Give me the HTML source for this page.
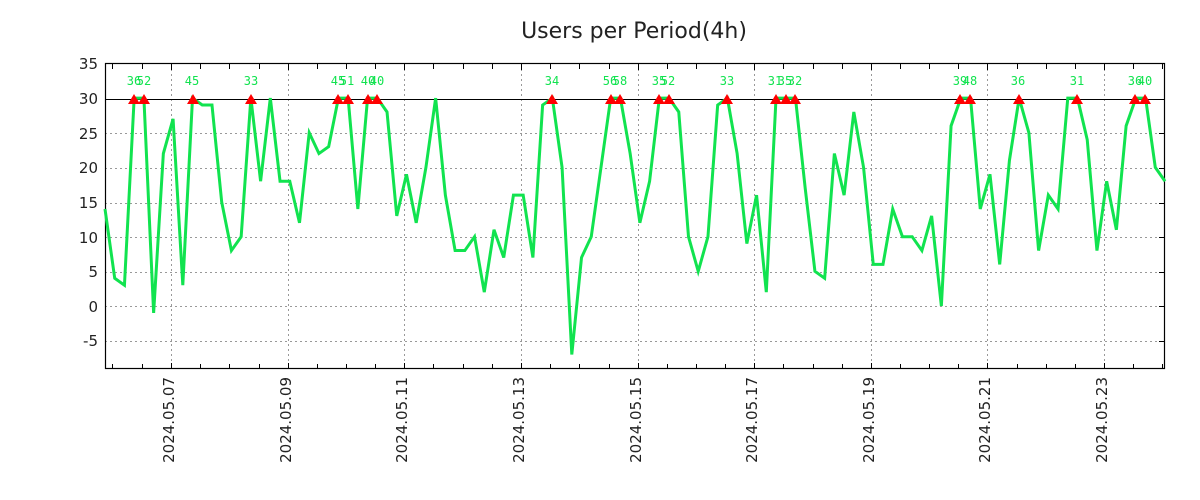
<!DOCTYPE html>
<html><head><meta charset="utf-8"><style>
body{margin:0;background:#fff;}
svg{display:block;font-family:"DejaVu Sans","Liberation Sans",sans-serif;}
</style></head><body>
<svg width="1200" height="500" viewBox="0 0 1200 500" xmlns="http://www.w3.org/2000/svg">
<rect width="1200" height="500" fill="#fff"/>
<text x="634" y="38" font-size="22" text-anchor="middle" fill="#222">Users per Period(4h)</text>
<g stroke="#999" stroke-width="1" stroke-dasharray="2,3">
<line x1="105" x2="1165" y1="133.5" y2="133.5"/><line x1="105" x2="1165" y1="168.5" y2="168.5"/>
<line x1="105" x2="1165" y1="203.5" y2="203.5"/><line x1="105" x2="1165" y1="237.5" y2="237.5"/>
<line x1="105" x2="1165" y1="272.5" y2="272.5"/><line x1="105" x2="1165" y1="306.5" y2="306.5"/>
<line x1="105" x2="1165" y1="341.5" y2="341.5"/>
<line x1="171.5" x2="171.5" y1="64" y2="369"/><line x1="288.5" x2="288.5" y1="64" y2="369"/>
<line x1="404.5" x2="404.5" y1="64" y2="369"/><line x1="521.5" x2="521.5" y1="64" y2="369"/>
<line x1="638.5" x2="638.5" y1="64" y2="369"/><line x1="754.5" x2="754.5" y1="64" y2="369"/>
<line x1="871.5" x2="871.5" y1="64" y2="369"/><line x1="987.5" x2="987.5" y1="64" y2="369"/>
<line x1="1104.5" x2="1104.5" y1="64" y2="369"/>
</g>
<g stroke="#000" stroke-width="1">
<path d="M112.5 369v-5M142.5 369v-5M171.5 369v-6M200.5 369v-5M229.5 369v-5M259.5 369v-5M288.5 369v-6M317.5 369v-5M346.5 369v-5M375.5 369v-5M404.5 369v-6M433.5 369v-5M463.5 369v-5M492.5 369v-5M521.5 369v-6M550.5 369v-5M579.5 369v-5M609.5 369v-5M638.5 369v-6M667.5 369v-5M696.5 369v-5M725.5 369v-5M754.5 369v-6M783.5 369v-5M813.5 369v-5M842.5 369v-5M871.5 369v-6M900.5 369v-5M929.5 369v-5M958.5 369v-5M987.5 369v-6M1017.5 369v-5M1046.5 369v-5M1075.5 369v-5M1104.5 369v-6M1133.5 369v-5M1162.5 369v-5"/>
<path d="M112.5 64v5M142.5 64v5M171.5 64v6M200.5 64v5M229.5 64v5M259.5 64v5M288.5 64v6M317.5 64v5M346.5 64v5M375.5 64v5M404.5 64v6M433.5 64v5M463.5 64v5M492.5 64v5M521.5 64v6M550.5 64v5M579.5 64v5M609.5 64v5M638.5 64v6M667.5 64v5M696.5 64v5M725.5 64v5M754.5 64v6M783.5 64v5M813.5 64v5M842.5 64v5M871.5 64v6M900.5 64v5M929.5 64v5M958.5 64v5M987.5 64v6M1017.5 64v5M1046.5 64v5M1075.5 64v5M1104.5 64v6M1133.5 64v5M1162.5 64v5"/>
<path d="M1165 133.5h-6M1165 168.5h-6M1165 203.5h-6M1165 237.5h-6M1165 272.5h-6M1165 306.5h-6M1165 341.5h-6"/>
</g>
<line x1="105" x2="1165" y1="99.5" y2="99.5" stroke="#000" stroke-width="1"/>
<rect x="105.5" y="63.5" width="1059" height="305" fill="none" stroke="#000" stroke-width="1.2"/>
<g font-size="15" fill="#222" text-anchor="end">
<text x="98" y="69">35</text><text x="98" y="104">30</text><text x="98" y="139">25</text>
<text x="98" y="173">20</text><text x="98" y="208">15</text><text x="98" y="243">10</text>
<text x="98" y="277">5</text><text x="98" y="312">0</text><text x="98" y="346">-5</text>
</g>
<g font-size="15" fill="#222" text-anchor="end">
<text transform="translate(174,377) rotate(-90)">2024.05.07</text>
<text transform="translate(291,377) rotate(-90)">2024.05.09</text>
<text transform="translate(407,377) rotate(-90)">2024.05.11</text>
<text transform="translate(524,377) rotate(-90)">2024.05.13</text>
<text transform="translate(641,377) rotate(-90)">2024.05.15</text>
<text transform="translate(757,377) rotate(-90)">2024.05.17</text>
<text transform="translate(874,377) rotate(-90)">2024.05.19</text>
<text transform="translate(990,377) rotate(-90)">2024.05.21</text>
<text transform="translate(1107,377) rotate(-90)">2024.05.23</text>
</g>
<g transform="translate(105,306) scale(9.725,-6.93)">
<polyline fill="none" stroke="#11e34f" stroke-width="3" vector-effect="non-scaling-stroke" stroke-linejoin="miter" points="0,14 1,4 2,3 3,30 4,30 5,-1 6,22 7,27 8,3 9,30 10,29 11,29 12,15 13,8 14,10 15,30 16,18 17,30 18,18 19,18 20,12 21,25 22,22 23,23 24,30 25,30 26,14 27,30 28,30 29,28 30,13 31,19 32,12 33,20 34,30 35,16 36,8 37,8 38,10 39,2 40,11 41,7 42,16 43,16 44,7 45,29 46,30 47,20 48,-7 49,7 50,10 51,20 52,30 53,30 54,22 55,12 56,18 57,30 58,30 59,28 60,10 61,5 62,10 63,29 64,30 65,22 66,9 67,16 68,2 69,30 70,30 71,30 72,17 73,5 74,4 75,22 76,16 77,28 78,20 79,6 80,6 81,14 82,10 83,10 84,8 85,13 86,0 87,26 88,30 89,30 90,14 91,19 92,6 93,21 94,30 95,25 96,8 97,16 98,14 99,30 100,30 101,24 102,8 103,18 104,11 105,26 106,30 107,30 108,20 109,18"/>
</g>
<g fill="#f00">
<polygon points="128,104 134,94 140,104"/><polygon points="138,104 144,94 150,104"/>
<polygon points="187,104 193,94 199,104"/><polygon points="245,104 251,94 257,104"/>
<polygon points="332,104 338,94 344,104"/><polygon points="342,104 348,94 354,104"/>
<polygon points="362,104 368,94 374,104"/><polygon points="371,104 377,94 383,104"/>
<polygon points="546,104 552,94 558,104"/><polygon points="605,104 611,94 617,104"/>
<polygon points="614,104 620,94 626,104"/><polygon points="653,104 659,94 665,104"/>
<polygon points="663,104 669,94 675,104"/><polygon points="721,104 727,94 733,104"/>
<polygon points="770,104 776,94 782,104"/><polygon points="780,104 786,94 792,104"/>
<polygon points="789,104 795,94 801,104"/><polygon points="954,104 960,94 966,104"/>
<polygon points="964,104 970,94 976,104"/><polygon points="1013,104 1019,94 1025,104"/>
<polygon points="1071,104 1077,94 1083,104"/><polygon points="1129,104 1135,94 1141,104"/>
<polygon points="1139,104 1145,94 1151,104"/>
</g>
<g font-size="12" fill="#11e34f" text-anchor="middle" font-family="'DejaVu Sans Mono','Liberation Mono',monospace">
<text x="134" y="85">36</text><text x="144" y="85">52</text><text x="192" y="85">45</text>
<text x="251" y="85">33</text><text x="338" y="85">45</text><text x="347" y="85">51</text>
<text x="368" y="85">40</text><text x="377" y="85">40</text><text x="552" y="85">34</text>
<text x="610" y="85">56</text><text x="620" y="85">58</text><text x="659" y="85">35</text>
<text x="668" y="85">52</text><text x="727" y="85">33</text><text x="775" y="85">31</text>
<text x="785" y="85">35</text><text x="795" y="85">32</text><text x="960" y="85">39</text>
<text x="970" y="85">48</text><text x="1018" y="85">36</text><text x="1077" y="85">31</text>
<text x="1135" y="85">36</text><text x="1145" y="85">40</text>
</g>
</svg>
</body></html>
